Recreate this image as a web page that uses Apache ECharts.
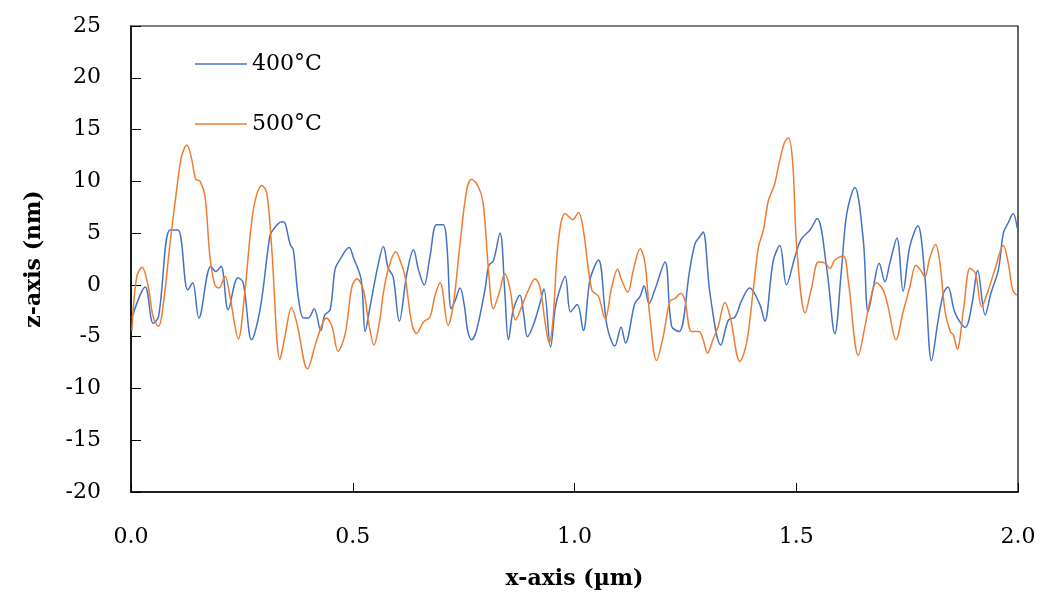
<!DOCTYPE html>
<html>
<head>
<meta charset="utf-8">
<script src="https://cdn.jsdelivr.net/npm/echarts@6/dist/echarts.min.js"></script>
<style>html,body{margin:0;padding:0;background:#fff}#c{width:1040px;height:599px}</style>
</head>
<body>
<div id="c"></div>
<script>
const seriesNames = ['400°C', '500°C'];
const xTicks = [0, 0.5, 1.0, 1.5, 2.0];
const yTicks = [-20, -15, -10, -5, 0, 5, 10, 15, 20, 25];

const x400 = [0.002,0.032,0.050,0.062,0.088,0.106,0.128,0.139,0.153,0.180,0.191,0.203,0.219,0.241,0.253,0.272,0.291,0.313,0.320,0.340,0.347,0.359,0.366,0.377,0.389,0.400,0.413,0.428,0.437,0.449,0.460,0.469,0.492,0.501,0.519,0.528,0.539,0.558,0.569,0.580,0.591,0.605,0.622,0.637,0.648,0.661,0.674,0.689,0.704,0.712,0.722,0.731,0.742,0.752,0.759,0.768,0.779,0.798,0.807,0.817,0.832,0.843,0.851,0.862,0.877,0.885,0.894,0.907,0.922,0.931,0.946,0.956,0.963,0.979,0.991,1.006,1.020,1.035,1.054,1.073,1.091,1.105,1.115,1.136,1.148,1.157,1.168,1.181,1.204,1.219,1.236,1.260,1.272,1.283,1.290,1.306,1.330,1.347,1.362,1.377,1.395,1.418,1.429,1.448,1.463,1.478,1.497,1.511,1.531,1.547,1.569,1.587,1.602,1.614,1.632,1.651,1.662,1.674,1.687,1.700,1.711,1.727,1.741,1.756,1.774,1.790,1.805,1.820,1.832,1.842,1.858,1.881,1.896,1.909,1.926,1.939,1.956,1.967,1.978,1.989,1.998];
const z400 = [-3.2,-0.2,-3.7,-3.1,5.3,5.3,-0.5,0.2,-3.2,1.8,1.3,1.8,-2.4,0.7,0.2,-5.3,-2.4,4.7,5.3,6.1,6.0,3.9,3.4,-1.1,-3.2,-3.2,-2.3,-4.4,-2.9,-2.4,1.5,2.3,3.6,2.7,0.5,-4.5,-2.1,2.1,3.7,1.6,0.8,-3.5,1.1,3.4,1.5,0,2.7,5.8,5.8,4.0,-2.3,-1.5,-0.3,-2.1,-4.4,-5.3,-4.4,-0.5,1.9,2.3,5.0,-0.8,-5.3,-2.4,-1.0,-2.7,-5.0,-3.9,-1.8,-0.4,-6.0,-2.4,-1.0,0.8,-2.6,-1.9,-4.4,0.5,2.4,-3.9,-5.9,-4.1,-5.6,-1.8,-1.1,-0.1,-1.8,-0.5,2.2,-4.0,-4.5,1.5,4.0,4.7,5.1,-1.0,-5.8,-3.4,-3.1,-1.5,-0.3,-1.9,-3.5,2.3,3.8,0,2.7,4.4,5.3,6.4,1.5,-4.7,1.5,6.9,9.4,4.4,-2.6,-0.2,2.1,0.3,2.1,4.5,-0.6,3.7,5.7,0.8,-7.3,-3.4,-0.8,-0.2,-2.7,-4.1,-1.9,1.4,-2.9,-0.8,1.5,5.0,6.0,6.9,5.5];

const x500 = [0.002,0.013,0.025,0.039,0.050,0.062,0.073,0.088,0.103,0.114,0.126,0.137,0.146,0.156,0.167,0.178,0.189,0.198,0.212,0.223,0.242,0.257,0.276,0.295,0.306,0.317,0.336,0.347,0.362,0.374,0.398,0.419,0.441,0.453,0.467,0.483,0.498,0.509,0.524,0.535,0.548,0.561,0.569,0.580,0.597,0.609,0.618,0.633,0.644,0.659,0.674,0.685,0.697,0.715,0.727,0.742,0.757,0.768,0.783,0.794,0.806,0.817,0.830,0.843,0.855,0.867,0.881,0.896,0.911,0.922,0.934,0.943,0.952,0.963,0.979,0.996,1.009,1.020,1.039,1.054,1.069,1.084,1.097,1.106,1.120,1.133,1.148,1.159,1.170,1.185,1.200,1.215,1.227,1.240,1.249,1.264,1.281,1.290,1.300,1.312,1.324,1.339,1.351,1.373,1.388,1.403,1.415,1.426,1.437,1.451,1.460,1.473,1.482,1.492,1.501,1.520,1.535,1.550,1.565,1.576,1.587,1.606,1.617,1.640,1.655,1.666,1.681,1.696,1.707,1.725,1.741,1.756,1.770,1.779,1.790,1.801,1.814,1.824,1.835,1.847,1.854,1.863,1.877,1.892,1.904,1.918,1.933,1.948,1.967,1.978,1.988,1.997];
const z500 = [-4.4,0.8,1.7,-0.2,-3.1,-4.0,-1.8,4.0,9.2,12.4,13.5,12.1,10.2,10.0,8.5,2.7,0,-0.3,0.8,-1.1,-5.2,-0.5,7.3,9.6,8.9,3.7,-7.2,-5.0,-2.2,-3.7,-8.1,-5.3,-3.2,-4.0,-6.4,-4.7,-0.2,0.6,-0.5,-3.4,-5.8,-3.4,-0.8,1.5,3.2,2.1,0.8,-3.7,-4.7,-3.6,-3.1,-1.1,0.2,-3.9,-1.8,4.0,9.2,10.2,9.5,7.9,1.5,-2.3,-0.8,1.1,-0.5,-3.4,-2.1,-0.5,0.6,-0.2,-3.7,-5.6,-3.1,4.0,6.9,6.3,7.0,5.3,-0.5,-1.1,-3.3,-0.2,1.5,0.5,-0.7,1.5,3.5,2.1,-3.1,-7.3,-5.0,-1.6,-1.3,-0.8,-1.5,-4.5,-4.5,-5.3,-6.6,-5.3,-4.0,-1.7,-3.1,-7.4,-5.6,-0.5,3.7,5.3,8.1,9.7,11.5,13.7,14.2,11.8,3.7,-2.7,-0.2,2.2,2.1,1.6,2.4,2.8,0.5,-6.8,-4.0,-1.6,0.2,-0.5,-2.1,-5.3,-2.6,-0.2,1.9,1.5,0.8,2.6,3.9,2.1,-2.4,-4.5,-4.8,-6.2,-2.4,1.6,1.1,-2.1,-0.5,1.5,3.8,2.1,-0.5,-1.0];

const colors = ['#4472C4', '#ED7D31'];
const FONT = 'DejaVu Serif';

const zip = (xs, ys) => xs.map((x, i) => [x, ys[i]]);

const chart = echarts.init(document.getElementById('c'), null, {renderer: 'canvas'});
chart.setOption({
  animation: false,
  backgroundColor: '#fff',
  grid: {left: 131, right: 22, top: 26, bottom: 107, show: true, borderColor: '#000', borderWidth: 1.2, containLabel: false},
  legend: {
    orient: 'vertical', left: 195, top: 53, itemWidth: 52, itemHeight: 1.5, itemGap: 38, padding: 0,
    icon: 'rect',
    textStyle: {fontFamily: FONT, fontSize: 22, color: '#000', lineHeight: 22, padding: [0, 0, 0, 0]},
    data: seriesNames.map((n, i) => ({name: n, itemStyle: {color: colors[i]}}))
  },
  xAxis: {
    type: 'value', min: xTicks[0], max: xTicks[xTicks.length - 1], interval: 0.5,
    axisLine: {onZero: false, lineStyle: {color: '#000', width: 1.5}},
    axisTick: {inside: true, length: 9, lineStyle: {color: '#000', width: 1}},
    splitLine: {show: false},
    axisLabel: {fontFamily: FONT, fontSize: 22, color: '#000', margin: 34, formatter: v => v.toFixed(1)},
    name: 'x-axis (µm)', nameLocation: 'middle', nameGap: 76,
    nameTextStyle: {fontFamily: FONT, fontSize: 22, fontWeight: 'bold', color: '#000'}
  },
  yAxis: {
    type: 'value', min: yTicks[0], max: yTicks[yTicks.length - 1], interval: 5,
    axisLine: {onZero: false, lineStyle: {color: '#000', width: 1.5}},
    axisTick: {inside: true, length: 10, lineStyle: {color: '#000', width: 1}},
    splitLine: {show: false},
    axisLabel: {fontFamily: FONT, fontSize: 22, color: '#000', margin: 30},
    name: 'z-axis (nm)', nameLocation: 'middle', nameGap: 86, nameRotate: 90,
    nameTextStyle: {fontFamily: FONT, fontSize: 22, fontWeight: 'bold', color: '#000'}
  },
  series: [
    {name: seriesNames[0], type: 'line', data: zip(x400, z400), smooth: 0.35, symbol: 'none',
     lineStyle: {color: colors[0], width: 1.5}, itemStyle: {color: colors[0]}},
    {name: seriesNames[1], type: 'line', data: zip(x500, z500), smooth: 0.35, symbol: 'none',
     lineStyle: {color: colors[1], width: 1.5}, itemStyle: {color: colors[1]}}
  ]
});
</script>
</body>
</html>
